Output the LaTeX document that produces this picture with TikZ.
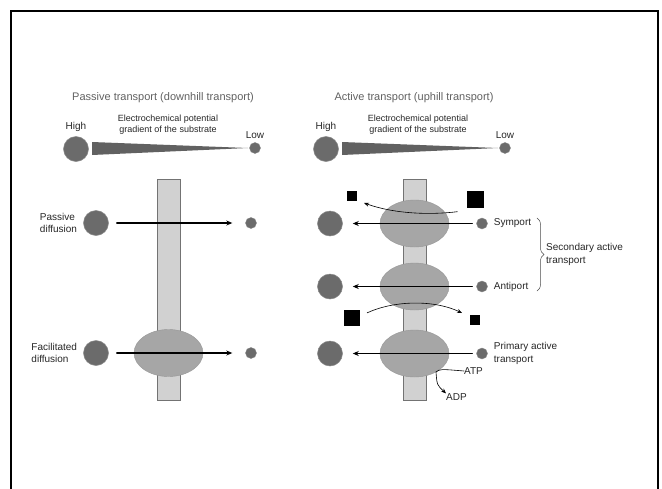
\documentclass[tikz,border=0pt]{standalone}
\usepackage{fontspec}
\setmainfont{Liberation Sans}
\usetikzlibrary{arrows.meta,shapes.geometric,decorations.pathreplacing,positioning}

\begin{document}
\begin{tikzpicture}
		[x=1pt,y=-1pt,line cap=round,
		%Styles
		membrane/.style={draw=membraneedge,fill=membranefill,line width=0.8pt},
		carrier/.style={ellipse,fill=carrierfill,draw=carrierfill!90!black,line width=0.4pt,minimum width=69pt,minimum height=47pt,inner sep=0pt},
		big solute/.style={circle,fill=solute,draw=solute!80!white,line width=0.5pt,minimum size=25pt,inner sep=0pt},
		small solute/.style={circle,fill=solute,draw=solute!80!white,line width=0.4pt,minimum size=11pt,inner sep=0pt},
		cosolute/.style={fill=black,inner sep=0pt,minimum size=#1},
		flux/.style={-{Stealth[length=6pt,width=5pt]},line width=1.3pt},
		co flux/.style={-{Stealth[length=5pt,width=4pt]},line width=0.6pt},
		title text/.style={font=\fontsize{11}{13}\selectfont,text=titlecolor},
		label text/.style={font=\fontsize{10}{12.5}\selectfont,text=labelcolor,align=left,inner sep=0pt},
		small text/.style={font=\fontsize{9}{11}\selectfont,text=labelcolor,align=center,inner sep=0pt}
		]
		
		%Colors
		\colorlet{membranefill}{black!18}
		\colorlet{membraneedge}{black!55}
		\colorlet{carrierfill}{black!35}
		\colorlet{solute}{black!58}
		\colorlet{wedgecolor}{black!62}
		\colorlet{titlecolor}{black!62}
		\colorlet{labelcolor}{black!85}
		
		\useasboundingbox (0,0) rectangle (662,488);
		\clip (0,0) rectangle (662,488);
		\draw[line width=2.5pt] (11,11) rectangle (658,520);
		
		%Headings and gradients
		\node[title text] (titleL) at (163,98) {Passive transport (downhill transport)};
		\node[title text] (titleR) at (414,98) {Active transport (uphill transport)};
		\foreach \side/\x in {L/0,R/250}
		{
			\node[small text] (grad\side) at (168+\x,125) {Electrochemical potential\\gradient of the substrate};
			\node[big solute] (high\side) at (76+\x,149) {};
			\node[small solute] (low\side) at (255+\x,148) {};
			\fill[wedgecolor] (92+\x,142) -- (248+\x,148) -- (92+\x,155) -- cycle;
			\node[label text,above=4pt of high\side] {High};
			\node[label text,above=4pt of low\side] {Low};
		}
		
		%Passive side
		\draw[membrane] (157,179) rectangle (180,400);
		\node[carrier] (facil) at (168.5,353) {};
		\node[big solute] (pasHi) at (96,223) {};
		\node[small solute] (pasLo) at (251,223) {};
		\node[big solute] (facHi) at (96,353) {};
		\node[small solute] (facLo) at (251,353) {};
		\node[label text,left=6pt of pasHi] {Passive\\diffusion};
		\node[label text,left=6pt of facHi] {Facilitated\\diffusion};
		\draw[flux,shorten <=8pt,shorten >=13pt] (pasHi) -- (pasLo);
		\draw[flux,shorten <=8pt,shorten >=13pt] (facHi) -- (facLo);
		
		%Active side
		\draw[membrane] (403,179) rectangle (426,400);
		\foreach \n/\y in {sym/223.5,anti/286.5,prim/353.5}
		{
			\node[carrier] (\n) at (414.5,\y) {};
			\node[big solute] (\n Hi) at (330,\y) {};
			\node[small solute] (\n Lo) at (482,\y) {};
			\draw[flux,shorten <=4pt,shorten >=10pt] (\n Lo) -- (\n Hi);
		}
		\node[label text,right=6pt of symLo] (symText) {Symport};
		\node[label text,right=6pt of antiLo] (antiText) {Antiport};
		\node[label text,right=6pt of primLo] {Primary active\\transport};
		
		%Co-transported ions
		\node[cosolute=10pt] (symOut) at (352,196) {};
		\node[cosolute=17pt] (symIn) at (475,199) {};
		\node[cosolute=16pt] (antiIn) at (352,318) {};
		\node[cosolute=10pt] (antiOut) at (475,320) {};
		\draw[co flux] (symIn.south west) ++(-9,4) .. controls (430,215) and (395,214) .. (364,203);
		\draw[co flux] (antiIn.north east) ++(7,3) .. controls (395,300) and (435,300) .. (462,313);
		
		%Brace
		\draw[decorate,decoration={brace,amplitude=7pt},line width=0.5pt,draw=black!70]
			(537,218) -- coordinate[pos=0.5,xshift=8pt] (braceTip) (537,291);
		\node[label text,anchor=west] at ([xshift=1pt]braceTip) {Secondary active\\transport};
		
		%ATP hydrolysis
		\coordinate (hydro) at (436,372);
		\node[label text,anchor=west] (atp) at (464,371) {ATP};
		\node[label text,anchor=west] (adp) at (446,397) {ADP};
		\draw[line width=0.6pt] (hydro) .. controls (440,369) .. (atp.west);
		\draw[co flux] (hydro) .. controls (437,385) .. (adp.north west);
	\end{tikzpicture}
\end{document}
